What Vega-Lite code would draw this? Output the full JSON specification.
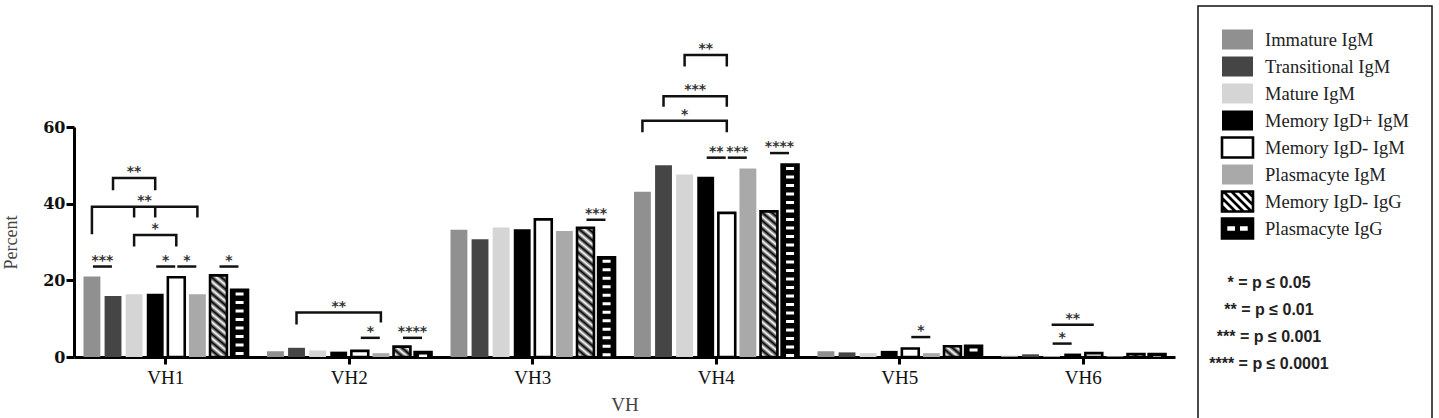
{
  "$schema": "https://vega.github.io/schema/vega-lite/v6.json",
  "width": 1101,
  "height": 230,
  "padding": {"left": 2, "top": 5, "right": 2, "bottom": 2},
  "datasets": {
    "bars": [
      {"VH": "VH1", "group": "Immature IgM", "value": 21.0},
      {"VH": "VH1", "group": "Transitional IgM", "value": 15.9},
      {"VH": "VH1", "group": "Mature IgM", "value": 16.4},
      {"VH": "VH1", "group": "Memory IgD+ IgM", "value": 16.5},
      {"VH": "VH1", "group": "Memory IgD- IgM", "value": 20.8},
      {"VH": "VH1", "group": "Plasmacyte IgM", "value": 16.4},
      {"VH": "VH1", "group": "Memory IgD- IgG", "value": 21.3},
      {"VH": "VH1", "group": "Plasmacyte IgG", "value": 17.5},
      {"VH": "VH2", "group": "Immature IgM", "value": 1.5},
      {"VH": "VH2", "group": "Transitional IgM", "value": 2.4},
      {"VH": "VH2", "group": "Mature IgM", "value": 1.7},
      {"VH": "VH2", "group": "Memory IgD+ IgM", "value": 1.4},
      {"VH": "VH2", "group": "Memory IgD- IgM", "value": 1.6},
      {"VH": "VH2", "group": "Plasmacyte IgM", "value": 1.0},
      {"VH": "VH2", "group": "Memory IgD- IgG", "value": 2.7},
      {"VH": "VH2", "group": "Plasmacyte IgG", "value": 1.3},
      {"VH": "VH3", "group": "Immature IgM", "value": 33.2},
      {"VH": "VH3", "group": "Transitional IgM", "value": 30.7},
      {"VH": "VH3", "group": "Mature IgM", "value": 33.8},
      {"VH": "VH3", "group": "Memory IgD+ IgM", "value": 33.3},
      {"VH": "VH3", "group": "Memory IgD- IgM", "value": 35.9},
      {"VH": "VH3", "group": "Plasmacyte IgM", "value": 32.9},
      {"VH": "VH3", "group": "Memory IgD- IgG", "value": 33.7},
      {"VH": "VH3", "group": "Plasmacyte IgG", "value": 26.0},
      {"VH": "VH4", "group": "Immature IgM", "value": 43.1},
      {"VH": "VH4", "group": "Transitional IgM", "value": 50.0},
      {"VH": "VH4", "group": "Mature IgM", "value": 47.6},
      {"VH": "VH4", "group": "Memory IgD+ IgM", "value": 47.0},
      {"VH": "VH4", "group": "Memory IgD- IgM", "value": 37.6},
      {"VH": "VH4", "group": "Plasmacyte IgM", "value": 49.2},
      {"VH": "VH4", "group": "Memory IgD- IgG", "value": 38.0},
      {"VH": "VH4", "group": "Plasmacyte IgG", "value": 50.2},
      {"VH": "VH5", "group": "Immature IgM", "value": 1.5},
      {"VH": "VH5", "group": "Transitional IgM", "value": 1.2},
      {"VH": "VH5", "group": "Mature IgM", "value": 1.0},
      {"VH": "VH5", "group": "Memory IgD+ IgM", "value": 1.6},
      {"VH": "VH5", "group": "Memory IgD- IgM", "value": 2.2},
      {"VH": "VH5", "group": "Plasmacyte IgM", "value": 1.0},
      {"VH": "VH5", "group": "Memory IgD- IgG", "value": 2.8},
      {"VH": "VH5", "group": "Plasmacyte IgG", "value": 2.9},
      {"VH": "VH6", "group": "Immature IgM", "value": 0.3},
      {"VH": "VH6", "group": "Transitional IgM", "value": 0.7},
      {"VH": "VH6", "group": "Mature IgM", "value": 0.2},
      {"VH": "VH6", "group": "Memory IgD+ IgM", "value": 0.9},
      {"VH": "VH6", "group": "Memory IgD- IgM", "value": 1.0},
      {"VH": "VH6", "group": "Plasmacyte IgM", "value": 0.2},
      {"VH": "VH6", "group": "Memory IgD- IgG", "value": 0.8},
      {"VH": "VH6", "group": "Plasmacyte IgG", "value": 0.8}
    ],
    "brackets": [
      {"id": "b1", "VH": "VH1", "at": "Transitional IgM", "y": 43.5, "k": 0},
      {"id": "b1", "VH": "VH1", "at": "Transitional IgM", "y": 46.7, "k": 1},
      {"id": "b1", "VH": "VH1", "at": "Memory IgD+ IgM", "y": 46.7, "k": 2},
      {"id": "b1", "VH": "VH1", "at": "Memory IgD+ IgM", "y": 43.5, "k": 3},
      {"id": "b2", "VH": "VH1", "at": "Immature IgM", "y": 32.0, "k": 0},
      {"id": "b2", "VH": "VH1", "at": "Immature IgM", "y": 39.2, "k": 1},
      {"id": "b2", "VH": "VH1", "at": "Plasmacyte IgM", "y": 39.2, "k": 2},
      {"id": "b2", "VH": "VH1", "at": "Plasmacyte IgM", "y": 36.4, "k": 3},
      {"id": "b3", "VH": "VH1", "at": "Mature IgM", "y": 39.2, "k": 0},
      {"id": "b3", "VH": "VH1", "at": "Mature IgM", "y": 36.4, "k": 1},
      {"id": "b4", "VH": "VH1", "at": "Memory IgD+ IgM", "y": 39.2, "k": 0},
      {"id": "b4", "VH": "VH1", "at": "Memory IgD+ IgM", "y": 36.4, "k": 1},
      {"id": "b5", "VH": "VH1", "at": "Mature IgM", "y": 28.8, "k": 0},
      {"id": "b5", "VH": "VH1", "at": "Mature IgM", "y": 31.8, "k": 1},
      {"id": "b5", "VH": "VH1", "at": "Memory IgD- IgM", "y": 31.8, "k": 2},
      {"id": "b5", "VH": "VH1", "at": "Memory IgD- IgM", "y": 28.8, "k": 3},
      {"id": "b6", "VH": "VH2", "at": "Transitional IgM", "y": 8.5, "k": 0},
      {"id": "b6", "VH": "VH2", "at": "Transitional IgM", "y": 11.6, "k": 1},
      {"id": "b6", "VH": "VH2", "at": "Plasmacyte IgM", "y": 11.6, "k": 2},
      {"id": "b6", "VH": "VH2", "at": "Plasmacyte IgM", "y": 9.0, "k": 3},
      {"id": "b7", "VH": "VH4", "at": "Mature IgM", "y": 75.8, "k": 0},
      {"id": "b7", "VH": "VH4", "at": "Mature IgM", "y": 78.8, "k": 1},
      {"id": "b7", "VH": "VH4", "at": "Memory IgD- IgM", "y": 78.8, "k": 2},
      {"id": "b7", "VH": "VH4", "at": "Memory IgD- IgM", "y": 75.8, "k": 3},
      {"id": "b8", "VH": "VH4", "at": "Transitional IgM", "y": 65.3, "k": 0},
      {"id": "b8", "VH": "VH4", "at": "Transitional IgM", "y": 68.0, "k": 1},
      {"id": "b8", "VH": "VH4", "at": "Memory IgD- IgM", "y": 68.0, "k": 2},
      {"id": "b8", "VH": "VH4", "at": "Memory IgD- IgM", "y": 65.3, "k": 3},
      {"id": "b9", "VH": "VH4", "at": "Immature IgM", "y": 58.6, "k": 0},
      {"id": "b9", "VH": "VH4", "at": "Immature IgM", "y": 61.6, "k": 1},
      {"id": "b9", "VH": "VH4", "at": "Memory IgD- IgM", "y": 61.6, "k": 2},
      {"id": "b9", "VH": "VH4", "at": "Memory IgD- IgM", "y": 58.6, "k": 3},
      {"id": "b10", "VH": "VH6", "at": "Mature IgM", "y": 8.4, "k": 0},
      {"id": "b10", "VH": "VH6", "at": "Memory IgD- IgM", "y": 8.4, "k": 1}
    ],
    "pairs": [
      {"VH": "VH1", "from": "Immature IgM", "to": "Transitional IgM", "y": 23.6, "label": "***"},
      {"VH": "VH1", "from": "Memory IgD+ IgM", "to": "Memory IgD- IgM", "y": 23.6, "label": "*"},
      {"VH": "VH1", "from": "Memory IgD- IgM", "to": "Plasmacyte IgM", "y": 23.6, "label": "*"},
      {"VH": "VH1", "from": "Memory IgD- IgG", "to": "Plasmacyte IgG", "y": 23.6, "label": "*"},
      {"VH": "VH2", "from": "Memory IgD- IgM", "to": "Plasmacyte IgM", "y": 5.0, "label": "*"},
      {"VH": "VH2", "from": "Memory IgD- IgG", "to": "Plasmacyte IgG", "y": 5.0, "label": "****"},
      {"VH": "VH3", "from": "Memory IgD- IgG", "to": "Plasmacyte IgG", "y": 35.8, "label": "***"},
      {"VH": "VH4", "from": "Memory IgD+ IgM", "to": "Memory IgD- IgM", "y": 52.0, "label": "**"},
      {"VH": "VH4", "from": "Memory IgD- IgM", "to": "Plasmacyte IgM", "y": 52.0, "label": "***"},
      {"VH": "VH4", "from": "Memory IgD- IgG", "to": "Plasmacyte IgG", "y": 53.2, "label": "****"},
      {"VH": "VH5", "from": "Memory IgD- IgM", "to": "Plasmacyte IgM", "y": 5.2, "label": "*"},
      {"VH": "VH6", "from": "Mature IgM", "to": "Memory IgD+ IgM", "y": 3.5, "label": "*"}
    ],
    "bracketLabelsMid": [
      {"VH": "VH1", "at": "Mature IgM", "y": 39.2, "label": "**"},
      {"VH": "VH4", "at": "Mature IgM", "y": 68.0, "label": "***"}
    ],
    "bracketLabels": [
      {"VH": "VH1", "at": "Mature IgM", "y": 46.7, "label": "**"},
      {"VH": "VH1", "at": "Memory IgD+ IgM", "y": 31.8, "label": "*"},
      {"VH": "VH2", "at": "Memory IgD+ IgM", "y": 11.6, "label": "**"},
      {"VH": "VH4", "at": "Memory IgD+ IgM", "y": 78.8, "label": "**"},
      {"VH": "VH4", "at": "Mature IgM", "y": 61.6, "label": "*"},
      {"VH": "VH6", "at": "Memory IgD+ IgM", "y": 8.4, "label": "**"}
    ]
  },
  "layer": [
    {
      "data": {"name": "bars"},
      "transform": [{"filter": {"field": "group", "oneOf": ["Immature IgM", "Transitional IgM", "Mature IgM", "Memory IgD+ IgM", "Plasmacyte IgM"]}}],
      "mark": {"type": "bar"},
      "encoding": {
        "x": {
          "field": "VH", "type": "nominal", "title": "VH",
          "scale": {"paddingInner": 0, "paddingOuter": 0},
          "axis": {
            "labelAngle": 0, "labelFont": "Liberation Serif", "labelFontSize": 19, "labelColor": "#111",
            "labelPadding": 4, "tickSize": 7, "tickWidth": 3, "tickColor": "#000", "domainWidth": 3, "domainColor": "#000",
            "titleFont": "Liberation Serif", "titleFontSize": 19, "titleFontWeight": "normal", "titleColor": "#444", "titlePadding": 8
          }
        },
        "xOffset": {
          "field": "group", "type": "nominal",
          "scale": {"domain": ["Immature IgM", "Transitional IgM", "Mature IgM", "Memory IgD+ IgM", "Memory IgD- IgM", "Plasmacyte IgM", "Memory IgD- IgG", "Plasmacyte IgG"], "paddingInner": 0.2, "paddingOuter": 0.45}
        },
        "y": {
          "field": "value", "type": "quantitative", "title": "Percent",
          "scale": {"domain": [0, 60], "nice": false},
          "axis": {
            "values": [0, 10, 20, 30, 40, 50, 60], "grid": false,
            "labelExpr": "datum.value % 20 === 0 ? datum.label : ''",
            "tickSize": {"condition": {"test": "datum.value % 20 === 0", "value": 8}, "value": 5},
            "tickWidth": 3, "tickColor": "#000", "domainWidth": 3, "domainColor": "#000",
            "labelFont": "DejaVu Serif", "labelFontSize": 16, "labelFontWeight": "bold", "labelColor": "#111", "labelPadding": 1,
            "titleFont": "Liberation Serif", "titleFontSize": 18, "titleFontWeight": "normal", "titleColor": "#444", "titlePadding": 22
          }
        },
        "color": {
          "field": "group", "type": "nominal",
          "scale": {
            "domain": ["Immature IgM", "Transitional IgM", "Mature IgM", "Memory IgD+ IgM", "Memory IgD- IgM", "Plasmacyte IgM", "Memory IgD- IgG", "Plasmacyte IgG", " ", "* = p ≤ 0.05", "** = p ≤ 0.01", "*** = p ≤ 0.001", "**** = p ≤ 0.0001", "  "],
            "range": ["#909090", "#454545", "#d5d5d5", "#000000", "#ffffff", "#a9a9a9", "#ffffff", "#000000", "#ffffff", "#ffffff", "#ffffff", "#ffffff", "#ffffff", "#ffffff"]
          },
          "legend": {
            "title": null, "orient": "none", "legendX": 1124, "legendY": -121,
            "strokeColor": "#111", "padding": 22,
            "symbolType": "M-1.55,-1H1.55V1H-1.55Z", "symbolSize": 400, "symbolStrokeWidth": 2.6, "symbolOffset": 6,
            "labelFont": "Liberation Serif", "labelFontSize": 18.5, "labelColor": "#222", "labelOffset": 16, "labelLimit": 250,
            "rowPadding": -5.9,
            "encode": {
              "legend": {"update": {"strokeWidth": {"value": 1.5}}},
              "symbols": {
                "update": {
                  "shape": [
                    {"test": "datum.index === 6", "value": "M-1.55,-1H1.55V1H-1.55Z M-1.55,0.45L-1,1 M-1.55,-0.35L-0.2,1 M-1.4,-1L0.6,1 M-0.6,-1L1.4,1 M0.2,-1L1.55,0.35 M1,-1L1.55,-0.45"},
                    {"test": "datum.index === 7", "value": "M-1.55,-1H1.55V1H-1.55Z M-1.15,-0.36V0.36H-0.12V-0.36Z M0.12,-0.36V0.36H1.15V-0.36Z"},
                    {"value": "M-1.55,-1H1.55V1H-1.55Z"}
                  ],
                  "stroke": [
                    {"test": "datum.index === 4 || datum.index === 6 || datum.index === 7", "value": "#000"},
                    {"value": "transparent"}
                  ],
                  "strokeWidth": {"value": 2.6},
                  "opacity": {"value": 1}
                }
              },
              "labels": {
                "update": {
                  "font": [{"test": "datum.index > 8", "value": "Liberation Sans"}, {"value": "Liberation Serif"}],
                  "fontWeight": [{"test": "datum.index > 8", "value": "bold"}, {"value": "normal"}],
                  "fontSize": [{"test": "datum.index > 8", "value": 16}, {"value": 18.5}],
                  "align": [{"test": "datum.index > 8", "value": "center"}, {"value": "left"}],
                  "dx": [{"test": "datum.index > 8", "value": 4}, {"value": 0}]
                }
              }
            }
          }
        }
      }
    },
    {
      "data": {"name": "bars"},
      "transform": [{"filter": {"field": "group", "oneOf": ["Memory IgD- IgM", "Memory IgD- IgG", "Plasmacyte IgG"]}}],
      "mark": {"type": "bar", "stroke": "#000", "strokeWidth": 2.6},
      "encoding": {
        "x": {"field": "VH", "type": "nominal", "title": "VH"},
        "xOffset": {
          "field": "group", "type": "nominal",
          "scale": {"domain": ["Immature IgM", "Transitional IgM", "Mature IgM", "Memory IgD+ IgM", "Memory IgD- IgM", "Plasmacyte IgM", "Memory IgD- IgG", "Plasmacyte IgG"], "paddingInner": 0.2, "paddingOuter": 0.45}
        },
        "y": {"field": "value", "type": "quantitative", "title": "Percent"},
        "fill": {
          "condition": [
            {"test": "datum.group === 'Memory IgD- IgM'", "value": "#ffffff"},
            {"test": "datum.group === 'Plasmacyte IgG'", "value": "#000000"},
            {"test": "datum.VH === 'VH1'", "value": {"gradient": "linear", "x1": 0, "y1": 1, "x2": 0.3349, "y2": -0.9259, "stops": [{"offset": 0, "color": "#000"}, {"offset": 0.025, "color": "#fff"}, {"offset": 0.05, "color": "#000"}, {"offset": 0.075, "color": "#fff"}, {"offset": 0.1, "color": "#000"}, {"offset": 0.125, "color": "#fff"}, {"offset": 0.15, "color": "#000"}, {"offset": 0.175, "color": "#fff"}, {"offset": 0.2, "color": "#000"}, {"offset": 0.225, "color": "#fff"}, {"offset": 0.25, "color": "#000"}, {"offset": 0.275, "color": "#fff"}, {"offset": 0.3, "color": "#000"}, {"offset": 0.325, "color": "#fff"}, {"offset": 0.35, "color": "#000"}, {"offset": 0.375, "color": "#fff"}, {"offset": 0.4, "color": "#000"}, {"offset": 0.425, "color": "#fff"}, {"offset": 0.45, "color": "#000"}, {"offset": 0.475, "color": "#fff"}, {"offset": 0.5, "color": "#000"}, {"offset": 0.525, "color": "#fff"}, {"offset": 0.55, "color": "#000"}, {"offset": 0.575, "color": "#fff"}, {"offset": 0.6, "color": "#000"}, {"offset": 0.625, "color": "#fff"}]}},
            {"test": "datum.VH === 'VH2'", "value": {"gradient": "linear", "x1": 0, "y1": 1, "x2": 7.452, "y2": -4.432, "stops": [{"offset": 0, "color": "#000"}, {"offset": 0.025, "color": "#fff"}, {"offset": 0.05, "color": "#000"}, {"offset": 0.075, "color": "#fff"}, {"offset": 0.1, "color": "#000"}, {"offset": 0.125, "color": "#fff"}, {"offset": 0.15, "color": "#000"}, {"offset": 0.175, "color": "#fff"}]}},
            {"test": "datum.VH === 'VH3'", "value": {"gradient": "linear", "x1": 0, "y1": 1, "x2": 0.1362, "y2": -0.2389, "stops": [{"offset": 0, "color": "#000"}, {"offset": 0.025, "color": "#fff"}, {"offset": 0.05, "color": "#000"}, {"offset": 0.075, "color": "#fff"}, {"offset": 0.1, "color": "#000"}, {"offset": 0.125, "color": "#fff"}, {"offset": 0.15, "color": "#000"}, {"offset": 0.175, "color": "#fff"}, {"offset": 0.2, "color": "#000"}, {"offset": 0.225, "color": "#fff"}, {"offset": 0.25, "color": "#000"}, {"offset": 0.275, "color": "#fff"}, {"offset": 0.3, "color": "#000"}, {"offset": 0.325, "color": "#fff"}, {"offset": 0.35, "color": "#000"}, {"offset": 0.375, "color": "#fff"}, {"offset": 0.4, "color": "#000"}, {"offset": 0.425, "color": "#fff"}, {"offset": 0.45, "color": "#000"}, {"offset": 0.475, "color": "#fff"}, {"offset": 0.5, "color": "#000"}, {"offset": 0.525, "color": "#fff"}, {"offset": 0.55, "color": "#000"}, {"offset": 0.575, "color": "#fff"}, {"offset": 0.6, "color": "#000"}, {"offset": 0.625, "color": "#fff"}, {"offset": 0.65, "color": "#000"}, {"offset": 0.675, "color": "#fff"}, {"offset": 0.7, "color": "#000"}, {"offset": 0.725, "color": "#fff"}, {"offset": 0.75, "color": "#000"}, {"offset": 0.775, "color": "#fff"}, {"offset": 0.8, "color": "#000"}, {"offset": 0.825, "color": "#fff"}, {"offset": 0.85, "color": "#000"}, {"offset": 0.875, "color": "#fff"}, {"offset": 0.9, "color": "#000"}, {"offset": 0.925, "color": "#fff"}]}},
            {"test": "datum.VH === 'VH4'", "value": {"gradient": "linear", "x1": 0, "y1": 1, "x2": 0.1073, "y2": -0.1014, "stops": [{"offset": 0, "color": "#000"}, {"offset": 0.025, "color": "#fff"}, {"offset": 0.05, "color": "#000"}, {"offset": 0.075, "color": "#fff"}, {"offset": 0.1, "color": "#000"}, {"offset": 0.125, "color": "#fff"}, {"offset": 0.15, "color": "#000"}, {"offset": 0.175, "color": "#fff"}, {"offset": 0.2, "color": "#000"}, {"offset": 0.225, "color": "#fff"}, {"offset": 0.25, "color": "#000"}, {"offset": 0.275, "color": "#fff"}, {"offset": 0.3, "color": "#000"}, {"offset": 0.325, "color": "#fff"}, {"offset": 0.35, "color": "#000"}, {"offset": 0.375, "color": "#fff"}, {"offset": 0.4, "color": "#000"}, {"offset": 0.425, "color": "#fff"}, {"offset": 0.45, "color": "#000"}, {"offset": 0.475, "color": "#fff"}, {"offset": 0.5, "color": "#000"}, {"offset": 0.525, "color": "#fff"}, {"offset": 0.55, "color": "#000"}, {"offset": 0.575, "color": "#fff"}, {"offset": 0.6, "color": "#000"}, {"offset": 0.625, "color": "#fff"}, {"offset": 0.65, "color": "#000"}, {"offset": 0.675, "color": "#fff"}, {"offset": 0.7, "color": "#000"}, {"offset": 0.725, "color": "#fff"}, {"offset": 0.75, "color": "#000"}, {"offset": 0.775, "color": "#fff"}, {"offset": 0.8, "color": "#000"}, {"offset": 0.825, "color": "#fff"}, {"offset": 0.85, "color": "#000"}, {"offset": 0.875, "color": "#fff"}, {"offset": 0.9, "color": "#000"}, {"offset": 0.925, "color": "#fff"}, {"offset": 0.95, "color": "#000"}, {"offset": 0.975, "color": "#fff"}, {"offset": 1, "color": "#000"}]}},
            {"test": "datum.VH === 'VH5'", "value": {"gradient": "linear", "x1": 0, "y1": 1, "x2": 7.264, "y2": -4.489, "stops": [{"offset": 0, "color": "#000"}, {"offset": 0.025, "color": "#fff"}, {"offset": 0.05, "color": "#000"}, {"offset": 0.075, "color": "#fff"}, {"offset": 0.1, "color": "#000"}, {"offset": 0.125, "color": "#fff"}, {"offset": 0.15, "color": "#000"}, {"offset": 0.175, "color": "#fff"}]}}
          ],
          "value": {"gradient": "linear", "x1": 0, "y1": 1, "x2": 10.9, "y2": -1.357, "stops": [{"offset": 0, "color": "#000"}, {"offset": 0.025, "color": "#fff"}, {"offset": 0.05, "color": "#000"}, {"offset": 0.075, "color": "#fff"}, {"offset": 0.1, "color": "#000"}, {"offset": 0.125, "color": "#fff"}]}
        }
      }
    },
    {
      "data": {"name": "bars"},
      "transform": [{"filter": "datum.group === 'Plasmacyte IgG'"}],
      "mark": {"type": "rule", "color": "#ffffff", "strokeWidth": 8, "strokeDash": [3, 5.5], "strokeDashOffset": 6},
      "encoding": {
        "x": {"field": "VH", "type": "nominal", "title": "VH"},
        "xOffset": {
          "field": "group", "type": "nominal",
          "scale": {"domain": ["Immature IgM", "Transitional IgM", "Mature IgM", "Memory IgD+ IgM", "Memory IgD- IgM", "Plasmacyte IgM", "Memory IgD- IgG", "Plasmacyte IgG"], "paddingInner": 0.2, "paddingOuter": 0.45}
        },
        "y": {"field": "value", "type": "quantitative", "title": "Percent"},
        "y2": {"datum": 0}
      }
    },
    {
      "data": {"name": "brackets"},
      "mark": {"type": "line", "color": "#111", "strokeWidth": 2.5, "strokeJoin": "miter"},
      "encoding": {
        "x": {"field": "VH", "type": "nominal", "title": "VH"},
        "xOffset": {
          "field": "at", "type": "nominal",
          "scale": {"domain": ["Immature IgM", "Transitional IgM", "Mature IgM", "Memory IgD+ IgM", "Memory IgD- IgM", "Plasmacyte IgM", "Memory IgD- IgG", "Plasmacyte IgG"], "paddingInner": 0.2, "paddingOuter": 0.45}
        },
        "y": {"field": "y", "type": "quantitative", "title": "Percent"},
        "detail": {"field": "id"},
        "order": {"field": "k", "type": "quantitative"}
      }
    },
    {
      "data": {"name": "pairs"},
      "transform": [{"fold": ["from", "to"], "as": ["end", "at"]}],
      "mark": {"type": "line", "color": "#111", "strokeWidth": 2.5, "strokeDash": [19, 100], "strokeDashOffset": -1},
      "encoding": {
        "x": {"field": "VH", "type": "nominal", "title": "VH"},
        "xOffset": {
          "field": "at", "type": "nominal",
          "scale": {"domain": ["Immature IgM", "Transitional IgM", "Mature IgM", "Memory IgD+ IgM", "Memory IgD- IgM", "Plasmacyte IgM", "Memory IgD- IgG", "Plasmacyte IgG"], "paddingInner": 0.2, "paddingOuter": 0.45}
        },
        "y": {"field": "y", "type": "quantitative", "title": "Percent"},
        "detail": [{"field": "VH"}, {"field": "from"}],
        "order": {"field": "end", "type": "ordinal"}
      }
    },
    {
      "data": {"name": "pairs"},
      "mark": {"type": "text", "font": "DejaVu Sans", "fontSize": 14, "fontWeight": "bold", "color": "#333", "baseline": "alphabetic", "dy": -2, "dx": 10.5},
      "encoding": {
        "x": {"field": "VH", "type": "nominal", "title": "VH"},
        "xOffset": {
          "field": "from", "type": "nominal",
          "scale": {"domain": ["Immature IgM", "Transitional IgM", "Mature IgM", "Memory IgD+ IgM", "Memory IgD- IgM", "Plasmacyte IgM", "Memory IgD- IgG", "Plasmacyte IgG"], "paddingInner": 0.2, "paddingOuter": 0.45}
        },
        "y": {"field": "y", "type": "quantitative", "title": "Percent"},
        "text": {"field": "label"}
      }
    },
    {
      "data": {"name": "bracketLabelsMid"},
      "mark": {"type": "text", "font": "DejaVu Sans", "fontSize": 14, "fontWeight": "bold", "color": "#333", "baseline": "alphabetic", "dy": -2, "dx": 10.5},
      "encoding": {
        "x": {"field": "VH", "type": "nominal", "title": "VH"},
        "xOffset": {
          "field": "at", "type": "nominal",
          "scale": {"domain": ["Immature IgM", "Transitional IgM", "Mature IgM", "Memory IgD+ IgM", "Memory IgD- IgM", "Plasmacyte IgM", "Memory IgD- IgG", "Plasmacyte IgG"], "paddingInner": 0.2, "paddingOuter": 0.45}
        },
        "y": {"field": "y", "type": "quantitative", "title": "Percent"},
        "text": {"field": "label"}
      }
    },
    {
      "data": {"name": "bracketLabels"},
      "mark": {"type": "text", "font": "DejaVu Sans", "fontSize": 14, "fontWeight": "bold", "color": "#333", "baseline": "alphabetic", "dy": -2},
      "encoding": {
        "x": {"field": "VH", "type": "nominal", "title": "VH"},
        "xOffset": {
          "field": "at", "type": "nominal",
          "scale": {"domain": ["Immature IgM", "Transitional IgM", "Mature IgM", "Memory IgD+ IgM", "Memory IgD- IgM", "Plasmacyte IgM", "Memory IgD- IgG", "Plasmacyte IgG"], "paddingInner": 0.2, "paddingOuter": 0.45}
        },
        "y": {"field": "y", "type": "quantitative", "title": "Percent"},
        "text": {"field": "label"}
      }
    }
  ],
  "config": {"view": {"stroke": null}, "background": "#ffffff"}
}
